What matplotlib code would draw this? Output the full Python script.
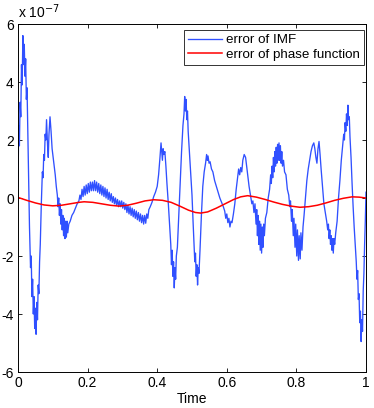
import matplotlib
matplotlib.use("Agg")
import matplotlib.pyplot as plt
import numpy as np

plt.rcParams['font.family'] = ['Liberation Sans', 'DejaVu Sans']

# error of IMF (units of 1e-7)
t_imf = [
    0.000, 0.002, 0.004, 0.006, 0.008, 0.010, 0.012, 0.014, 0.016, 0.018,
    0.020, 0.022, 0.024, 0.026, 0.028, 0.030, 0.033, 0.036, 0.038, 0.040,
    0.042, 0.044, 0.046, 0.048, 0.050, 0.052, 0.054, 0.056, 0.058, 0.060,
    0.062, 0.064, 0.067, 0.070, 0.072, 0.074, 0.076, 0.078, 0.080, 0.082,
    0.085, 0.087, 0.089, 0.092, 0.095, 0.098, 0.101, 0.104, 0.107, 0.110,
    0.113, 0.115, 0.117, 0.119, 0.121, 0.123, 0.125, 0.127, 0.129, 0.131,
    0.133, 0.135, 0.137, 0.139, 0.141, 0.143, 0.146, 0.150, 0.155, 0.160,
    0.165, 0.170, 0.175, 0.178, 0.181, 0.184, 0.187, 0.190, 0.193, 0.196,
    0.199, 0.202, 0.205, 0.208, 0.211, 0.214, 0.217, 0.220, 0.223, 0.226,
    0.229, 0.232, 0.235, 0.238, 0.241, 0.244, 0.247, 0.250, 0.253, 0.256,
    0.259, 0.262, 0.265, 0.268, 0.271, 0.274, 0.277, 0.280, 0.283, 0.286,
    0.289, 0.292, 0.295, 0.298, 0.301, 0.304, 0.307, 0.310, 0.313, 0.316,
    0.319, 0.322, 0.325, 0.328, 0.331, 0.334, 0.337, 0.340, 0.343, 0.346,
    0.349, 0.352, 0.355, 0.358, 0.361, 0.364, 0.367, 0.370, 0.373, 0.376,
    0.380, 0.385, 0.390, 0.395, 0.400, 0.404, 0.408, 0.411, 0.413, 0.415,
    0.417, 0.419, 0.422, 0.425, 0.428, 0.432, 0.436, 0.439, 0.441, 0.443,
    0.445, 0.447, 0.449, 0.451, 0.453, 0.455, 0.458, 0.462, 0.466, 0.470,
    0.474, 0.477, 0.479, 0.481, 0.483, 0.485, 0.487, 0.489, 0.492, 0.496,
    0.500, 0.503, 0.506, 0.508, 0.510, 0.512, 0.514, 0.516, 0.518, 0.520,
    0.523, 0.527, 0.531, 0.535, 0.539, 0.542, 0.544, 0.546, 0.549, 0.552,
    0.556, 0.560, 0.565, 0.570, 0.575, 0.580, 0.585, 0.590, 0.594, 0.597,
    0.600, 0.603, 0.606, 0.609, 0.612, 0.615, 0.619, 0.623, 0.627, 0.631,
    0.634, 0.637, 0.640, 0.643, 0.646, 0.650, 0.654, 0.657, 0.660, 0.664,
    0.668, 0.672, 0.675, 0.678, 0.681, 0.684, 0.686, 0.688, 0.690, 0.692,
    0.694, 0.696, 0.698, 0.700, 0.702, 0.704, 0.706, 0.708, 0.711, 0.715,
    0.719, 0.723, 0.726, 0.728, 0.730, 0.732, 0.734, 0.736, 0.738, 0.740,
    0.742, 0.744, 0.746, 0.748, 0.750, 0.752, 0.754, 0.756, 0.758, 0.760,
    0.763, 0.766, 0.770, 0.774, 0.778, 0.781, 0.783, 0.786, 0.788, 0.791,
    0.793, 0.796, 0.798, 0.801, 0.803, 0.806, 0.808, 0.811, 0.813, 0.816,
    0.819, 0.822, 0.826, 0.830, 0.834, 0.838, 0.842, 0.846, 0.850, 0.853,
    0.856, 0.859, 0.862, 0.865, 0.868, 0.871, 0.875, 0.879, 0.883, 0.887,
    0.890, 0.892, 0.894, 0.896, 0.898, 0.900, 0.902, 0.904, 0.906, 0.908,
    0.910, 0.913, 0.917, 0.921, 0.925, 0.929, 0.933, 0.936, 0.938, 0.940,
    0.942, 0.944, 0.946, 0.948, 0.950, 0.952, 0.954, 0.957, 0.960, 0.963,
    0.966, 0.969, 0.972, 0.974, 0.976, 0.978, 0.980, 0.982, 0.984, 0.986,
    0.988, 0.990, 0.992, 0.994, 0.996, 0.998, 1.000,
]
err_imf = [
    0.4, 2.5, 1.8, 3.3, 2.8, 4.6, 3.9, 5.6, 4.6, 5.3,
    4.2, 4.8, 3.4, 3.8, 2.4, 1.2, -1.0, -2.4, -2.0, -3.4,
    -2.8, -4.0, -3.4, -4.5, -3.8, -4.7, -3.6, -4.2, -3.0, -3.3,
    -2.2, -1.6, -0.2, 0.9, 0.7, 1.5, 1.3, 2.2, 2.0, 2.7,
    1.8, 1.4, 2.2, 2.8, 2.3, 1.7, 1.4, 1.1, 0.8, 0.4,
    0.1, -0.3, 0.0, -0.6, -0.2, -0.9, -0.4, -1.1, -0.6, -1.3,
    -0.7, -1.4, -0.8, -1.35, -0.8, -1.2, -0.9, -0.8, -0.6, -0.5,
    -0.35, -0.2, -0.1, 0.1, -0.05, 0.3, 0.05, 0.4, 0.1, 0.45,
    0.15, 0.5, 0.2, 0.55, 0.25, 0.55, 0.25, 0.6, 0.25, 0.55,
    0.2, 0.5, 0.15, 0.45, 0.1, 0.4, 0.05, 0.35, 0.0, 0.3,
    -0.05, 0.2, -0.1, 0.15, -0.15, 0.05, -0.2, 0.0, -0.25, -0.05,
    -0.3, -0.1, -0.3, -0.1, -0.35, -0.15, -0.4, -0.2, -0.5, -0.25,
    -0.55, -0.3, -0.6, -0.35, -0.65, -0.4, -0.7, -0.45, -0.75, -0.5,
    -0.8, -0.55, -0.85, -0.6, -0.9, -0.6, -0.87, -0.55, -0.7, -0.4,
    -0.3, -0.15, 0.05, 0.2, 0.4, 0.8, 1.4, 1.9, 1.6, 1.3,
    1.7, 1.5, 1.6, 1.1, 0.5, -0.2, -1.0, -1.6, -2.3, -1.8,
    -2.7, -2.2, -3.1, -2.4, -2.8, -2.0, -1.7, -0.6, 0.5, 1.6,
    2.5, 2.9, 3.5, 3.0, 3.4, 2.7, 3.0, 2.3, 1.7, 0.9,
    0.1, -0.8, -1.6, -2.2, -1.9, -2.7, -2.3, -3.0, -2.4, -2.6,
    -1.8, -0.6, 0.4, 0.9, 1.2, 1.5, 1.3, 1.45, 1.2, 1.25,
    1.0, 0.9, 0.6, 0.4, 0.2, 0.0, -0.15, -0.3, -0.45, -0.7,
    -0.55, -0.85, -0.7, -1.0, -0.8, -0.85, -0.55, -0.2, 0.3, 0.7,
    1.0, 0.8, 1.05, 0.9, 1.3, 1.5, 1.4, 1.1, 0.8, 0.4,
    0.1, -0.2, -0.1, -0.5, -0.2, -0.9, -0.4, -1.3, -0.6, -1.6,
    -0.8, -1.8, -0.9, -1.9, -1.0, -1.7, -0.9, -1.3, -0.7, -0.5,
    0.0, 0.3, 0.8, 0.5, 1.1, 0.7, 1.4, 0.9, 1.6, 1.1,
    1.75, 1.2, 1.85, 1.3, 1.9, 1.3, 1.8, 1.2, 1.6, 1.1,
    1.3, 0.9, 0.8, 0.3, 0.1, -0.3, -0.1, -0.8, -0.4, -1.3,
    -0.7, -1.7, -0.9, -2.0, -1.1, -2.15, -1.3, -2.1, -1.2, -1.8,
    -1.0, -0.6, 0.0, 0.6, 1.0, 1.3, 1.6, 1.8, 1.9, 1.7,
    1.4, 1.2, 1.7, 1.95, 1.5, 1.0, 0.4, -0.2, -0.5, -0.8,
    -1.1, -0.9, -1.4, -1.1, -1.6, -1.3, -1.8, -1.4, -1.9, -1.4,
    -1.6, -1.2, -0.8, 0.0, 0.6, 1.3, 1.8, 2.2, 2.0, 2.6,
    2.3, 2.9, 2.5, 3.2, 2.7, 2.8, 2.1, 1.4, 0.5, -0.3,
    -1.0, -1.6, -2.2, -2.8, -2.5, -3.5, -3.3, -4.3, -3.9, -4.95,
    -4.2, -4.6, -3.2, -2.6, -1.6, -0.8, 0.2,
]

# error of phase function (units of 1e-7)
t_phase = [
    0.000, 0.025, 0.050, 0.075, 0.100, 0.125, 0.150, 0.175, 0.190, 0.215,
    0.240, 0.265, 0.290, 0.315, 0.340, 0.365, 0.390, 0.415, 0.440, 0.465,
    0.490, 0.510, 0.525, 0.545, 0.570, 0.595, 0.620, 0.640, 0.660, 0.685,
    0.710, 0.735, 0.760, 0.785, 0.810, 0.835, 0.860, 0.885, 0.910, 0.935,
    0.960, 0.980, 1.000,
]
err_phase = [
    0.02, -0.08, -0.17, -0.24, -0.27, -0.25, -0.2, -0.15, -0.13, -0.15,
    -0.2, -0.25, -0.28, -0.25, -0.18, -0.1, -0.06, -0.08, -0.15, -0.28,
    -0.42, -0.5, -0.52, -0.48, -0.35, -0.2, -0.05, 0.04, 0.08, 0.03,
    -0.05, -0.14, -0.22, -0.28, -0.32, -0.3, -0.25, -0.17, -0.08, -0.01,
    0.04, 0.03, 0.0,
]

scale = 1e-7
x_ticks = [0, 0.2, 0.4, 0.6, 0.8, 1]
x_ticklabels = ['0', '0.2', '0.4', '0.6', '0.8', '1']
y_ticks = [-6, -4, -2, 0, 2, 4, 6]

fig = plt.figure(figsize=(3.74, 4.08), dpi=100)
ax = fig.add_axes([18/374, 36/408, 348/374, 348/408])

ax.plot(t_imf, np.array(err_imf) * scale, color='#3050ff', lw=0.95,
        label='error of IMF')
ax.plot(t_phase, np.array(err_phase) * scale, color='#ff0000', lw=1.1,
        label='error of phase function')

ax.set_xlim(0, 1)
ax.set_ylim(-6e-7, 6e-7)
ax.set_xticks(x_ticks)
ax.set_xticklabels(x_ticklabels)
ax.set_yticks(np.array(y_ticks) * scale)
ax.set_yticklabels([str(v) for v in y_ticks])
ax.tick_params(direction='in', length=3, width=0.6, top=True, right=True,
               labelsize=10, pad=3)
for s in ax.spines.values():
    s.set_linewidth(0.7)
ax.set_xlabel('Time', fontsize=10, labelpad=1)
ax.text(0, 1.008, r'x 10$^{-7}$', transform=ax.transAxes, fontsize=10,
        ha='left', va='bottom')

leg = ax.legend(loc='upper right', bbox_to_anchor=(0.995, 0.983),
                fontsize=9.6, frameon=True, fancybox=False, edgecolor='black',
                handlelength=2.6, handletextpad=0.3, labelspacing=0.15,
                borderpad=0.3, borderaxespad=0)
leg.get_frame().set_linewidth(0.7)

fig.savefig('out.png', dpi=100)
